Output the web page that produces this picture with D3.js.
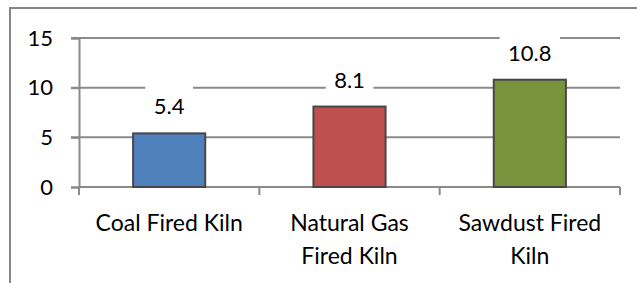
<!DOCTYPE html>
<html>
<head>
<meta charset="utf-8">
<script src="https://cdn.jsdelivr.net/npm/d3@7"></script>
<style>
  html, body { margin: 0; padding: 0; background: #fff; }
  svg { display: block; }
  text { font-family: Lato, "Open Sans", sans-serif; fill: #000; }
</style>
</head>
<body>
<svg id="chart" width="637" height="283"></svg>
<script>
const categories = [['Coal Fired Kiln'], ['Natural Gas', 'Fired Kiln'], ['Sawdust Fired', 'Kiln']];
const values = [5.4, 8.1, 10.8];
const colors = ['#4f81bd', '#c0504d', '#77933c'];
const yTicks = [0, 5, 10, 15];

const svg = d3.select('#chart');
const plotLeft = 79, plotRight = 620, plotTop = 38, plotBottom = 187;

// outer frame, right and bottom edges fall outside the picture
svg.append('rect')
  .attr('x', 10).attr('y', 8)
  .attr('width', 700).attr('height', 400)
  .attr('fill', 'none')
  .attr('stroke', '#868686')
  .attr('stroke-width', 2);

const x = d3.scaleBand()
  .domain(d3.range(values.length))
  .range([plotLeft, plotRight])
  .paddingInner(0.6)
  .paddingOuter(0.3);

const y = d3.scaleLinear().domain([0, 15]).range([plotBottom, plotTop]);

// gridlines
svg.append('g')
  .selectAll('line')
  .data(yTicks.filter(d => d > 0))
  .join('line')
  .attr('x1', plotLeft - 8).attr('x2', plotRight)
  .attr('y1', d => y(d)).attr('y2', d => y(d))
  .attr('stroke', '#8a8a8a')
  .attr('stroke-width', 2);

// y axis
const yAxis = svg.append('g')
  .attr('transform', `translate(${plotLeft},0)`)
  .call(d3.axisLeft(y).tickValues(yTicks).tickSize(8).tickPadding(18));
yAxis.select('.domain').attr('stroke', '#8a8a8a').attr('stroke-width', 2);
yAxis.selectAll('.tick line').attr('stroke', '#8a8a8a').attr('stroke-width', 2);
yAxis.selectAll('.tick text')
  .attr('font-size', 22)
  .attr('font-family', 'Lato, sans-serif')
  .attr('fill', '#000');

// x axis line and category ticks
const step = x.step();
const bounds = d3.range(values.length + 1).map(i => plotLeft + i * step);
svg.append('line')
  .attr('x1', plotLeft).attr('x2', plotRight)
  .attr('y1', plotBottom).attr('y2', plotBottom)
  .attr('stroke', '#8a8a8a').attr('stroke-width', 2);
svg.append('g')
  .selectAll('line')
  .data(bounds)
  .join('line')
  .attr('x1', d => d).attr('x2', d => d)
  .attr('y1', plotBottom).attr('y2', plotBottom + 8)
  .attr('stroke', '#8a8a8a').attr('stroke-width', 2);

// bars
svg.append('g')
  .selectAll('rect')
  .data(values)
  .join('rect')
  .attr('x', (d, i) => x(i))
  .attr('y', d => y(d))
  .attr('width', x.bandwidth())
  .attr('height', d => plotBottom - y(d))
  .attr('fill', (d, i) => colors[i])
  .attr('stroke', '#474747')
  .attr('stroke-width', 2);

// data labels with white boxes
const labels = svg.append('g')
  .selectAll('g')
  .data(values)
  .join('g')
  .attr('transform', (d, i) => `translate(${x(i) + x.bandwidth() / 2},${y(d) - 19})`);
labels.append('rect').attr('fill', '#fff');
labels.append('text')
  .attr('text-anchor', 'middle')
  .attr('font-size', 22)
  .text(d => d.toFixed(1))
  .each(function () {
    const w = this.getComputedTextLength() + 17;
    d3.select(this.previousSibling)
      .attr('x', -w / 2).attr('width', w)
      .attr('y', -30).attr('height', 36);
  });

// category labels
const cats = svg.append('g')
  .selectAll('text')
  .data(categories)
  .join('text')
  .attr('text-anchor', 'middle')
  .attr('font-size', 23)
  .attr('x', (d, i) => x(i) + x.bandwidth() / 2)
  .attr('y', 231);
cats.selectAll('tspan')
  .data(d => d)
  .join('tspan')
  .attr('x', function () { return this.parentNode.getAttribute('x'); })
  .attr('dy', (d, i) => i === 0 ? 0 : 32.5)
  .text(d => d);
</script>
</body>
</html>
